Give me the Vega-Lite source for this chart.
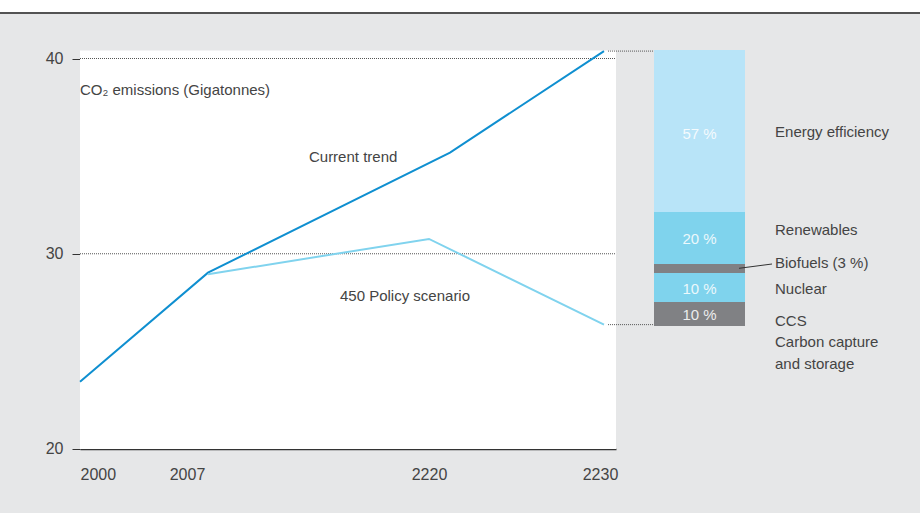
{
  "$schema": "https://vega.github.io/schema/vega-lite/v6.json",
  "width": 920,
  "height": 501,
  "autosize": "none",
  "padding": {"left": 0, "top": 12, "right": 0, "bottom": 0},
  "background": "#ffffff",
  "config": {
    "view": {"fill": "#e6e7e8", "stroke": null},
    "font": "Liberation Sans",
    "axisY": {"offset": -80, "domain": false, "grid": false, "ticks": true, "tickColor": "#333333", "tickSize": 8, "tickWidth": 1, "labelFont": "Liberation Sans", "labelFontSize": 16, "labelColor": "#444444", "labelPadding": 9, "labelFlush": false},
    "axisX": {"offset": -64, "domain": true, "domainColor": "#333333", "domainWidth": 1.5, "ticks": false, "tickSize": 0, "grid": false, "labelFont": "Liberation Sans", "labelFontSize": 16, "labelColor": "#444444", "labelPadding": 17, "labelFlush": false}
  },
  "datasets": {
    "emissions": [
      {"series": "Current trend", "year": 2000, "value": 23.45},
      {"series": "Current trend", "year": 2007, "value": 29.03},
      {"series": "Current trend", "year": 2221.2, "value": 35.18},
      {"series": "Current trend", "year": 2230, "value": 40.38},
      {"series": "450 Policy scenario", "year": 2007, "value": 28.95},
      {"series": "450 Policy scenario", "year": 2220, "value": 30.76},
      {"series": "450 Policy scenario", "year": 2230, "value": 26.37}
    ],
    "reductions": [
      {"component": "Energy efficiency", "share": 57, "from": 32.14, "to": 40.44},
      {"component": "Renewables", "share": 20, "from": 29.47, "to": 32.14},
      {"component": "Biofuels", "share": 3, "from": 29.01, "to": 29.47},
      {"component": "Nuclear", "share": 10, "from": 27.53, "to": 29.01},
      {"component": "CCS", "share": 10, "from": 26.3, "to": 27.53}
    ]
  },
  "layer": [
    {
      "layer": [
        {
          "data": {"values": [{}]},
          "mark": {"type": "rect", "fill": "#ffffff"},
          "encoding": {
            "x": {"datum": 2000, "type": "quantitative", "scale": {"domain": [2000, 2007, 2220, 2230, 2231], "range": [80, 208, 429, 604, 616], "nice": false, "zero": false}},
            "x2": {"datum": 2231},
            "y": {"datum": 20, "type": "quantitative", "scale": {"domain": [16.722, 42.382], "nice": false, "zero": false}},
            "y2": {"datum": 40.41}
          }
        },
        {
          "data": {"values": [{"grid": 30}, {"grid": 40}]},
          "mark": {"type": "rule", "color": "#555555", "strokeWidth": 1, "strokeDash": [1, 1]},
          "encoding": {
            "x": {"datum": 2000, "type": "quantitative", "scale": {"domain": [2000, 2007, 2220, 2230, 2231], "range": [80, 208, 429, 604, 616], "nice": false, "zero": false}},
            "x2": {"datum": 2231},
            "y": {"field": "grid", "type": "quantitative", "title": null, "scale": {"domain": [16.722, 42.382], "nice": false, "zero": false}}
          }
        },
        {
          "data": {"values": [{}]},
          "mark": {"type": "rule", "color": "#222222", "strokeWidth": 1.5},
          "encoding": {
            "y": {"datum": 42.33, "type": "quantitative", "scale": {"domain": [16.722, 42.382], "nice": false, "zero": false}}
          }
        },
        {
          "data": {"name": "emissions"},
          "mark": {"type": "line", "strokeWidth": 2},
          "encoding": {
            "x": {"field": "year", "type": "quantitative", "title": null,
              "scale": {"domain": [2000, 2007, 2220, 2230, 2231], "range": [80, 208, 429, 604, 616], "nice": false, "zero": false},
              "axis": {"values": [2000, 2007, 2220, 2230], "format": "d",
                "labelAlign": {"condition": {"test": "datum.value == 2000", "value": "left"}, "value": "center"},
                "labelOffset": {"condition": [{"test": "datum.value == 2007", "value": -21}, {"test": "datum.value == 2230", "value": -4}], "value": 0}}},
            "y": {"field": "value", "type": "quantitative", "title": null,
              "scale": {"domain": [16.722, 42.382], "nice": false, "zero": false},
              "axis": {"values": [20, 30, 40], "format": "d"}},
            "stroke": {"field": "series", "type": "nominal", "legend": null,
              "scale": {"domain": ["Current trend", "450 Policy scenario"], "range": ["#0f8fd0", "#80d3ee"]}}
          }
        },
        {
          "data": {"values": [{}]},
          "mark": {"type": "text", "text": "CO₂ emissions (Gigatonnes)", "align": "left", "baseline": "middle", "font": "Liberation Sans", "fontSize": 15, "color": "#444444"},
          "encoding": {
            "x": {"datum": 2000, "type": "quantitative", "scale": {"domain": [2000, 2007, 2220, 2230, 2231], "range": [80, 208, 429, 604, 616], "nice": false, "zero": false}},
            "y": {"datum": 38.39, "type": "quantitative", "scale": {"domain": [16.722, 42.382], "nice": false, "zero": false}}
          }
        },
        {
          "data": {"values": [{}]},
          "mark": {"type": "text", "text": "Current trend", "align": "left", "baseline": "middle", "font": "Liberation Sans", "fontSize": 15, "color": "#444444"},
          "encoding": {
            "x": {"datum": 2104.3, "type": "quantitative", "scale": {"domain": [2000, 2007, 2220, 2230, 2231], "range": [80, 208, 429, 604, 616], "nice": false, "zero": false}},
            "y": {"datum": 34.96, "type": "quantitative", "scale": {"domain": [16.722, 42.382], "nice": false, "zero": false}}
          }
        },
        {
          "data": {"values": [{}]},
          "mark": {"type": "text", "text": "450 Policy scenario", "align": "left", "baseline": "middle", "font": "Liberation Sans", "fontSize": 15, "color": "#444444"},
          "encoding": {
            "x": {"datum": 2134.2, "type": "quantitative", "scale": {"domain": [2000, 2007, 2220, 2230, 2231], "range": [80, 208, 429, 604, 616], "nice": false, "zero": false}},
            "y": {"datum": 27.84, "type": "quantitative", "scale": {"domain": [16.722, 42.382], "nice": false, "zero": false}}
          }
        }
      ]
    },
    {
      "layer": [
        {
          "data": {"name": "emissions"},
          "transform": [{"filter": "datum.year == 2230"}],
          "mark": {"type": "rule", "color": "#555555", "strokeWidth": 1, "strokeDash": [1, 1]},
          "encoding": {
            "x": {"datum": -0.505, "type": "quantitative", "axis": null, "scale": {"domain": [0, 1], "range": [654, 745], "nice": false, "zero": false}},
            "x2": {"datum": 0},
            "y": {"field": "value", "type": "quantitative", "title": null, "scale": {"domain": [16.722, 42.382], "nice": false, "zero": false}}
          }
        },
        {
          "data": {"name": "reductions"},
          "mark": {"type": "rect"},
          "encoding": {
            "x": {"datum": 0, "type": "quantitative", "axis": null, "scale": {"domain": [0, 1], "range": [654, 745], "nice": false, "zero": false}},
            "x2": {"datum": 1},
            "y": {"field": "from", "type": "quantitative", "title": null, "scale": {"domain": [16.722, 42.382], "nice": false, "zero": false}},
            "y2": {"field": "to"},
            "fill": {"field": "component", "type": "nominal", "legend": null,
              "scale": {"domain": ["Energy efficiency", "Renewables", "Biofuels", "Nuclear", "CCS"], "range": ["#b8e4f8", "#7fd3ed", "#808184", "#7fd3ed", "#808184"]}}
          }
        },
        {
          "data": {"values": [{}]},
          "mark": {"type": "text", "text": "57 %", "align": "center", "baseline": "middle", "font": "Liberation Sans", "fontSize": 15, "color": "#ffffff", "opacity": 0.85},
          "encoding": {
            "x": {"datum": 0.5, "type": "quantitative", "axis": null, "scale": {"domain": [0, 1], "range": [654, 745], "nice": false, "zero": false}},
            "y": {"datum": 36.15, "type": "quantitative", "scale": {"domain": [16.722, 42.382], "nice": false, "zero": false}}
          }
        },
        {
          "data": {"values": [{}]},
          "mark": {"type": "text", "text": "20 %", "align": "center", "baseline": "middle", "font": "Liberation Sans", "fontSize": 15, "color": "#ffffff", "opacity": 0.85},
          "encoding": {
            "x": {"datum": 0.5, "type": "quantitative", "axis": null, "scale": {"domain": [0, 1], "range": [654, 745], "nice": false, "zero": false}},
            "y": {"datum": 30.77, "type": "quantitative", "scale": {"domain": [16.722, 42.382], "nice": false, "zero": false}}
          }
        },
        {
          "data": {"values": [{}]},
          "mark": {"type": "text", "text": "10 %", "align": "center", "baseline": "middle", "font": "Liberation Sans", "fontSize": 15, "color": "#ffffff", "opacity": 0.85},
          "encoding": {
            "x": {"datum": 0.5, "type": "quantitative", "axis": null, "scale": {"domain": [0, 1], "range": [654, 745], "nice": false, "zero": false}},
            "y": {"datum": 28.21, "type": "quantitative", "scale": {"domain": [16.722, 42.382], "nice": false, "zero": false}}
          }
        },
        {
          "data": {"values": [{}]},
          "mark": {"type": "text", "text": "10 %", "align": "center", "baseline": "middle", "font": "Liberation Sans", "fontSize": 15, "color": "#ffffff", "opacity": 0.85},
          "encoding": {
            "x": {"datum": 0.5, "type": "quantitative", "axis": null, "scale": {"domain": [0, 1], "range": [654, 745], "nice": false, "zero": false}},
            "y": {"datum": 26.88, "type": "quantitative", "scale": {"domain": [16.722, 42.382], "nice": false, "zero": false}}
          }
        },
        {
          "data": {"values": [{}]},
          "mark": {"type": "rule", "color": "#333333", "strokeWidth": 1},
          "encoding": {
            "x": {"datum": 0.934, "type": "quantitative", "axis": null, "scale": {"domain": [0, 1], "range": [654, 745], "nice": false, "zero": false}},
            "x2": {"datum": 1.297},
            "y": {"datum": 29.255, "type": "quantitative", "scale": {"domain": [16.722, 42.382], "nice": false, "zero": false}},
            "y2": {"datum": 29.475}
          }
        },
        {
          "data": {"values": [{}]},
          "mark": {"type": "text", "text": "Energy efficiency", "align": "left", "baseline": "middle", "font": "Liberation Sans", "fontSize": 15, "color": "#444444"},
          "encoding": {
            "x": {"datum": 1.33, "type": "quantitative", "axis": null, "scale": {"domain": [0, 1], "range": [654, 745], "nice": false, "zero": false}},
            "y": {"datum": 36.26, "type": "quantitative", "scale": {"domain": [16.722, 42.382], "nice": false, "zero": false}}
          }
        },
        {
          "data": {"values": [{}]},
          "mark": {"type": "text", "text": "Renewables", "align": "left", "baseline": "middle", "font": "Liberation Sans", "fontSize": 15, "color": "#444444"},
          "encoding": {
            "x": {"datum": 1.33, "type": "quantitative", "axis": null, "scale": {"domain": [0, 1], "range": [654, 745], "nice": false, "zero": false}},
            "y": {"datum": 31.22, "type": "quantitative", "scale": {"domain": [16.722, 42.382], "nice": false, "zero": false}}
          }
        },
        {
          "data": {"values": [{}]},
          "mark": {"type": "text", "text": "Biofuels (3 %)", "align": "left", "baseline": "middle", "font": "Liberation Sans", "fontSize": 15, "color": "#444444"},
          "encoding": {
            "x": {"datum": 1.33, "type": "quantitative", "axis": null, "scale": {"domain": [0, 1], "range": [654, 745], "nice": false, "zero": false}},
            "y": {"datum": 29.54, "type": "quantitative", "scale": {"domain": [16.722, 42.382], "nice": false, "zero": false}}
          }
        },
        {
          "data": {"values": [{}]},
          "mark": {"type": "text", "text": "Nuclear", "align": "left", "baseline": "middle", "font": "Liberation Sans", "fontSize": 15, "color": "#444444"},
          "encoding": {
            "x": {"datum": 1.33, "type": "quantitative", "axis": null, "scale": {"domain": [0, 1], "range": [654, 745], "nice": false, "zero": false}},
            "y": {"datum": 28.22, "type": "quantitative", "scale": {"domain": [16.722, 42.382], "nice": false, "zero": false}}
          }
        },
        {
          "data": {"values": [{}]},
          "mark": {"type": "text", "text": ["CCS", "Carbon capture", "and storage"], "lineHeight": 21.5, "align": "left", "baseline": "middle", "font": "Liberation Sans", "fontSize": 15, "color": "#444444"},
          "encoding": {
            "x": {"datum": 1.33, "type": "quantitative", "axis": null, "scale": {"domain": [0, 1], "range": [654, 745], "nice": false, "zero": false}},
            "y": {"datum": 26.58, "type": "quantitative", "scale": {"domain": [16.722, 42.382], "nice": false, "zero": false}}
          }
        }
      ]
    }
  ],
  "resolve": {"scale": {"x": "independent"}}
}
